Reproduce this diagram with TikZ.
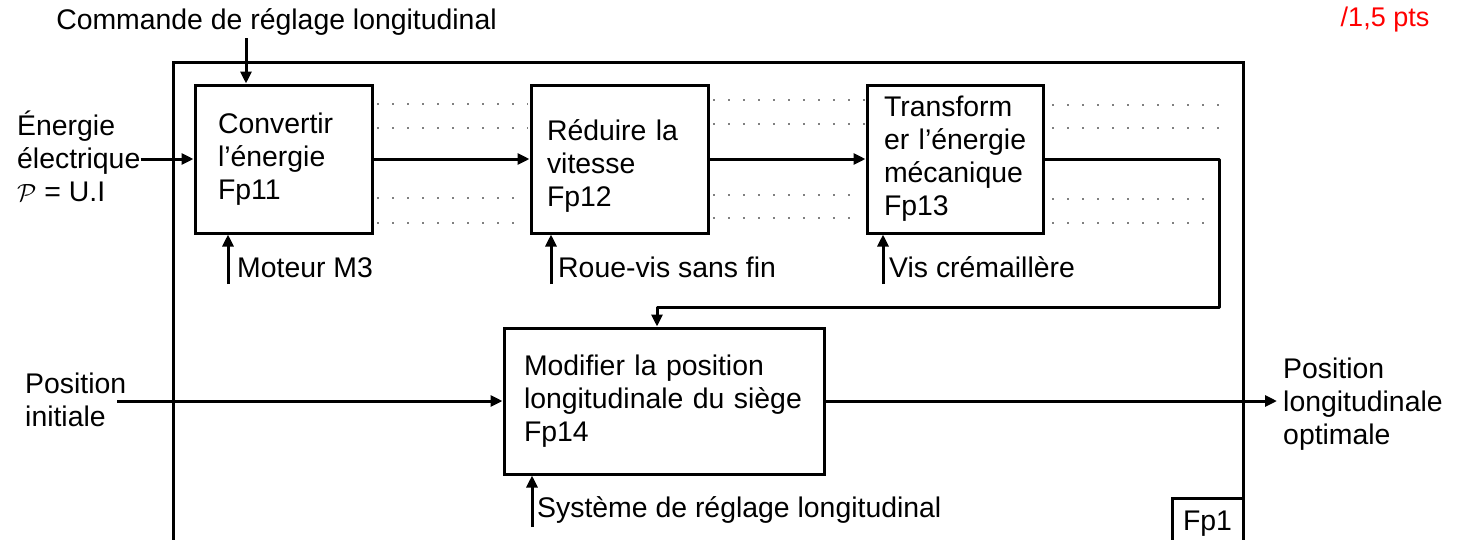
\documentclass[tikz,border=0pt]{standalone}
\usepackage{fontspec}
\setmainfont{Liberation Sans}
\usetikzlibrary{arrows.meta, positioning}

\begin{document}
\begin{tikzpicture}[x=1pt, y=-1pt, font=\fontsize{28.4}{33}\selectfont]
  \tikzstyle{func} = [rectangle, draw=black, line width=3pt, minimum height=148, align=left]
  \tikzstyle{txt} = [inner sep=0, align=left]
  \tikzstyle{flow} = [line width=3pt, line join=round, -{Triangle[length=12pt, width=11pt]}]
  \tikzstyle{guide} = [gray, line width=1.5pt, dash pattern=on 1.5pt off 13.5pt]

  \useasboundingbox (0,0) rectangle (1464,539);

  % Frame of Fp1
  \draw[line width=3pt] (173,560) -- (173,62) -- (1243,62) -- (1243,560);
  \node (fp1) at (1243,498) [draw, line width=3pt, anchor=north east, outer sep=0, minimum width=71, inner ysep=13, text depth=40] {Fp1};
  \node (score) at (1385,20) [text=red, font=\fontsize{27}{30}\selectfont] {/1,5 pts};

  % Function blocks
  \node (fp11) at (283.5,159) [func, text width=131, inner xsep=23] {Convertir\\l’énergie\\Fp11};
  \node (fp12) at (619.5,159) [func, text width=145, inner xsep=16, text height=34] {Réduire~la\\vitesse\\Fp12};
  \node (fp13) at (955,159) [func, text width=142, inner xsep=17] {Transform\\er~l’énergie\\mécanique\\Fp13};
  \node (fp14) at (664,401) [func, minimum height=146, text width=280, inner xsep=20] {Modifier la position\\longitudinale du siège\\Fp14};

  % Inputs and outputs
  \node (commande) at (276.5,22) {Commande de réglage longitudinal};
  \node (energie) at (17,156) [txt, anchor=west] {Énergie\\électrique\\$\mathcal{P}$ = U.I};
  \node (posinit) at (25,400) [txt, anchor=west] {Position\\initiale};
  \node (posout) at (1283,404) [txt, anchor=west] {Position\\longitudinale\\optimale};

  % Supports
  \node (m3) at (237,277) [txt, anchor=base west] {Moteur M3};
  \node (roue) at (558,277) [txt, anchor=base west] {Roue-vis sans fin};
  \node (vis) at (889,277) [txt, anchor=base west] {Vis crémaillère};
  \node (syst) at (537,517) [txt, anchor=base west] {Système de réglage longitudinal};

  \coordinate (cmdin) at (246,38);
  \coordinate (m3in) at (228,284);
  \coordinate (rouein) at (551,284);
  \coordinate (visin) at (883,284);
  \coordinate (systin) at (532,527);
  \coordinate (fb) at (1219,307);

  % Arrows
  \draw[flow] (cmdin) -- (cmdin |- fp11.north);
  \draw[flow] (energie.east |- fp11.west) -- (fp11.west);
  \draw[flow] (fp11) -- (fp12);
  \draw[flow] (fp12) -- (fp13);
  \draw[flow] (fp13.east) -| (fb) -| ([xshift=-7pt]fp14.north);
  \draw[flow] ([xshift=-9pt]posinit.east |- fp14.west) -- (fp14.west);
  \draw[flow] (fp14.east) -- ([xshift=-6pt]posout.west |- fp14.east);
  \draw[flow] (m3in) -- (m3in |- fp11.south);
  \draw[flow] (rouein) -- (rouein |- fp12.south);
  \draw[flow] (visin) -- (visin |- fp13.south);
  \draw[flow] (systin) -- (systin |- fp14.south);

  % Dotted guides
  \draw[guide] (377,104) -- (528,104);
  \draw[guide] (377,128) -- (528,128);
  \draw[guide] (377,198) -- (517,198);
  \draw[guide] (377,223) -- (517,223);
  \draw[guide] (713,100) -- (865,100);
  \draw[guide] (713,124) -- (865,124);
  \draw[guide] (713,195) -- (853,195);
  \draw[guide] (713,218) -- (853,218);
  \draw[guide] (1052,105) -- (1225,105);
  \draw[guide] (1052,128) -- (1225,128);
  \draw[guide] (1052,199) -- (1215,199);
  \draw[guide] (1052,223) -- (1215,223);
\end{tikzpicture}
\end{document}
